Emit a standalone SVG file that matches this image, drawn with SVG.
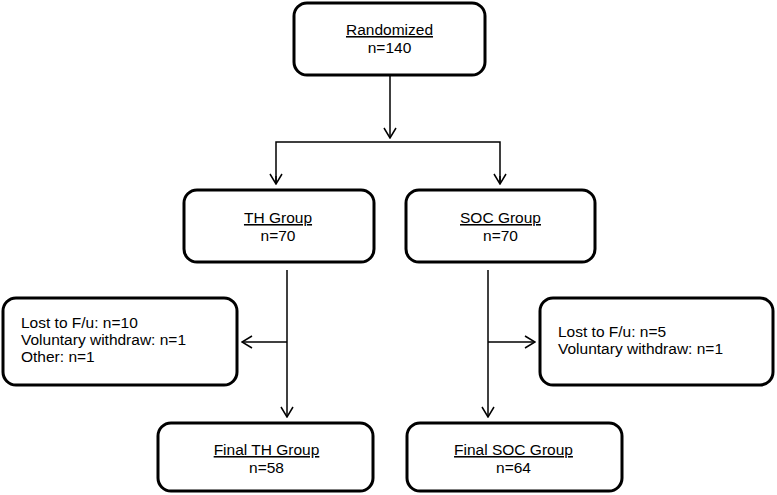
<svg xmlns="http://www.w3.org/2000/svg" width="777" height="495" viewBox="0 0 777 495">
<style>
.box{fill:#fff;stroke:#000;stroke-width:3}
.t{font-family:"Liberation Sans",Arial,sans-serif;font-size:15.5px;fill:#000}
.c{text-anchor:middle}
.u{text-decoration:underline}
.ln{fill:none;stroke:#000;stroke-width:1.5}
</style>
<defs>
<marker id="ah" viewBox="0 0 12 14" refX="11" refY="7" markerWidth="12" markerHeight="14" markerUnits="userSpaceOnUse" orient="auto">
<path d="M1,1 L11,7 L1,13" fill="none" stroke="#000" stroke-width="1.5"/>
</marker>
</defs>
<rect width="777" height="495" fill="#fff"/>
<g id="connectors">
<line class="ln" x1="390" y1="76" x2="390" y2="138" marker-end="url(#ah)"/>
<polyline class="ln" points="276,184 276,142 500,142 500,184"/>
<line class="ln" x1="276" y1="176" x2="276" y2="184" marker-end="url(#ah)"/>
<line class="ln" x1="500" y1="176" x2="500" y2="184" marker-end="url(#ah)"/>
<line class="ln" x1="287" y1="270" x2="287" y2="417" marker-end="url(#ah)"/>
<line class="ln" x1="488" y1="270" x2="488" y2="417" marker-end="url(#ah)"/>
<line class="ln" x1="287" y1="342" x2="242" y2="342" marker-end="url(#ah)"/>
<line class="ln" x1="488" y1="342" x2="535" y2="342" marker-end="url(#ah)"/>
</g>
<g id="randomized">
<rect class="box" x="294" y="3" width="191" height="72" rx="13"/>
<text class="t c u" x="389.5" y="35">Randomized</text>
<text class="t c" x="389.5" y="53">n=140</text>
</g>
<g id="th-group">
<rect class="box" x="184" y="190" width="190" height="72" rx="13"/>
<text class="t c u" x="278" y="223">TH Group</text>
<text class="t c" x="278" y="241">n=70</text>
</g>
<g id="soc-group">
<rect class="box" x="406" y="190" width="189" height="72" rx="13"/>
<text class="t c u" x="500.5" y="223">SOC Group</text>
<text class="t c" x="500.5" y="241">n=70</text>
</g>
<g id="th-lost">
<rect class="box" x="3" y="298" width="234" height="87" rx="13"/>
<text class="t" x="21" y="328">Lost to F/u: n=10</text>
<text class="t" x="21" y="345">Voluntary withdraw: n=1</text>
<text class="t" x="21" y="362">Other: n=1</text>
</g>
<g id="soc-lost">
<rect class="box" x="540" y="298" width="233" height="87" rx="13"/>
<text class="t" x="558" y="337">Lost to F/u: n=5</text>
<text class="t" x="558" y="354">Voluntary withdraw: n=1</text>
</g>
<g id="final-th">
<rect class="box" x="158" y="423" width="215" height="68" rx="13"/>
<text class="t c u" x="266.5" y="455">Final TH Group</text>
<text class="t c" x="266.5" y="473">n=58</text>
</g>
<g id="final-soc">
<rect class="box" x="407" y="423" width="215" height="68" rx="13"/>
<text class="t c u" x="513.5" y="455">Final SOC Group</text>
<text class="t c" x="513.5" y="473">n=64</text>
</g>
</svg>
